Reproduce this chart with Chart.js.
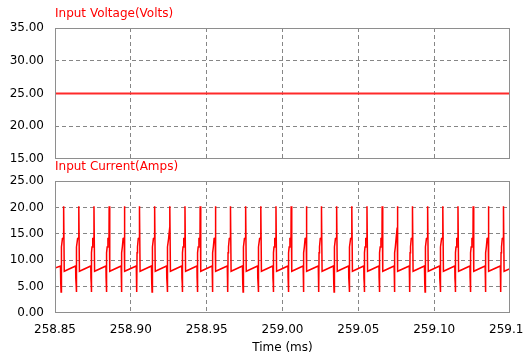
<!DOCTYPE html>
<html>
<head>
<meta charset="utf-8">
<script src="https://cdn.jsdelivr.net/npm/chart.js@4.4.0/dist/chart.umd.min.js"></script>
<style>
  html, body { margin: 0; padding: 0; background: #fff; }
  #wrap { position: relative; width: 524px; height: 358px; overflow: hidden; }
  canvas { position: absolute; left: 0; }
  #voltChart { top: 0; }
  #currChart { top: 158px; }
</style>
</head>
<body>
<div id="wrap">
  <canvas id="voltChart" width="524" height="172"></canvas>
  <canvas id="currChart" width="524" height="200"></canvas>
</div>
<script>
// tick labels
var timeTicks = [258.85, 258.90, 258.95, 259.00, 259.05, 259.10, 259.15];
var voltageTicks = [15, 20, 25, 30, 35];
var currentTicks = [0, 5, 10, 15, 20, 25];

// input voltage: flat line
var voltageTimes = [258.85, 259.15];
var voltageValues = [25.0, 25.0];

// input current: one switching pulse every 10 us
var peakTimes = [258.856, 258.866, 258.876, 258.886, 258.896, 258.906, 258.916, 258.926, 258.936, 258.946,
                 258.956, 258.966, 258.976, 258.986, 258.996, 259.006, 259.016, 259.026, 259.036, 259.046,
                 259.056, 259.066, 259.076, 259.086, 259.096, 259.106, 259.116, 259.126, 259.136, 259.146];
var peakValues = [20.2, 20.2, 20.2, 20.2, 20.2, 20.2, 20.2, 20.2, 20.2, 20.2,
                  20.2, 20.2, 20.2, 20.2, 20.2, 20.2, 20.2, 20.2, 20.2, 20.2,
                  20.2, 20.2, 20.2, 20.2, 20.2, 20.2, 20.2, 20.2, 20.2, 20.2];
var stepValues = [14.2, 14.2, 14.2, 14.2, 14.2, 14.2, 14.2, 16.1, 14.2, 14.2,
                  14.2, 14.2, 14.2, 14.2, 14.2, 14.2, 14.2, 14.2, 14.2, 14.2,
                  14.2, 14.2, 16.2, 14.2, 14.2, 14.2, 14.2, 14.2, 14.2, 14.2];
// shape of the transient around each peak (time offset in ms, level in A)
var pulseOffsets = [-0.0024, -0.0023, -0.0021, -0.0020, -0.0019, -0.0016, -0.0011, -0.0004, -0.0003, 0.0001];
var pulseLevels  = [8.9, 6.6, 5.6, 4.0, 11.4, 12.5, 14.1, 14.2, 20.2, 7.9];
var edgeTimes = [258.85, 259.15];
var edgeValues = [8.5, 8.4];

function voltagePoints() {
    return voltageTimes.map((t, i) => ({x: t, y: voltageValues[i]}));
}

function currentPoints() {
    let pts = [{x: edgeTimes[0], y: edgeValues[0]}];
    peakTimes.forEach((tp, k) => {
        pulseOffsets.forEach((off, j) => {
            let y = pulseLevels[j];
            if (j === 7) y = stepValues[k];
            if (j === 8) y = peakValues[k];
            pts.push({x: tp + off, y: y});
        });
    });
    pts.push({x: edgeTimes[1], y: edgeValues[1]});
    return pts;
}

const tickFont = {family: '"DejaVu Sans"', size: 12};

function gridColor(ctx) {
    let t = ctx.tick;
    if (t && (Math.abs(t.value - ctx.scale.min) < 1e-9 || Math.abs(t.value - ctx.scale.max) < 1e-9))
        return 'rgba(0,0,0,0)';
    return '#868686';
}

// frame round the plot area and the red panel title
const plotBox = {
    id: 'plotBox',
    afterDraw(chart, args, opts) {
        let a = chart.chartArea, c = chart.ctx;
        c.save();
        c.strokeStyle = '#8e8e8e';
        c.lineWidth = 1;
        c.strokeRect(Math.round(a.left) + 0.5, Math.round(a.top) + 0.5,
                     Math.round(a.right - a.left) - 1, Math.round(a.bottom - a.top) - 1);
        c.fillStyle = '#ff0000';
        c.font = '12px "DejaVu Sans"';
        c.textAlign = 'left';
        c.textBaseline = 'middle';
        c.fillText(opts.label, a.left, a.top - 14);
        c.restore();
    }
};

function makeOptions(yTicks, label, showTime, pad) {
    return {
        responsive: false,
        animation: false,
        events: [],
        layout: {padding: pad},
        plugins: {
            legend: {display: false},
            tooltip: {enabled: false},
            plotBox: {label: label}
        },
        scales: {
            x: {
                type: 'linear',
                min: timeTicks[0],
                max: timeTicks[timeTicks.length - 1],
                afterBuildTicks: s => { s.ticks = timeTicks.map(v => ({value: v})); },
                afterFit: s => {
                    s.height = showTime ? 45 : 0;
                    s.paddingLeft = 0; s.paddingRight = 0;
                },
                grid: {color: gridColor, drawTicks: false, lineWidth: 1},
                border: {display: false, dash: [4, 3]},
                ticks: {
                    display: showTime,
                    padding: 10,
                    maxRotation: 0,
                    autoSkip: false,
                    color: '#000',
                    font: tickFont,
                    callback: v => Number(v).toFixed(2)
                },
                title: {
                    display: showTime,
                    text: 'Time (ms)',
                    color: '#000',
                    font: tickFont,
                    padding: {top: 0, bottom: 3}
                }
            },
            y: {
                min: yTicks[0],
                max: yTicks[yTicks.length - 1],
                afterBuildTicks: s => { s.ticks = yTicks.map(v => ({value: v})); },
                afterFit: s => {
                    s.width = 55;
                    s.paddingTop = 0; s.paddingBottom = 0;
                },
                grid: {color: gridColor, drawTicks: false, lineWidth: 1},
                border: {display: false, dash: [4, 3]},
                ticks: {
                    padding: 11,
                    color: '#000',
                    font: tickFont,
                    callback: v => Number(v).toFixed(2)
                }
            }
        }
    };
}

new Chart(document.getElementById('voltChart'), {
    type: 'line',
    data: {
        datasets: [{
            data: voltagePoints(),
            borderColor: '#ff2a2a',
            borderWidth: 2,
            pointRadius: 0,
            tension: 0
        }]
    },
    options: makeOptions(voltageTicks, 'Input Voltage(Volts)', false, {left: 0, right: 14, top: 28, bottom: 13}),
    plugins: [plotBox]
});

new Chart(document.getElementById('currChart'), {
    type: 'line',
    data: {
        datasets: [{
            data: currentPoints(),
            borderColor: '#ff0000',
            borderWidth: 1.5,
            pointRadius: 0,
            tension: 0
        }]
    },
    options: makeOptions(currentTicks, 'Input Current(Amps)', true, {left: 0, right: 14, top: 23, bottom: 0}),
    plugins: [plotBox]
});
</script>
</body>
</html>
